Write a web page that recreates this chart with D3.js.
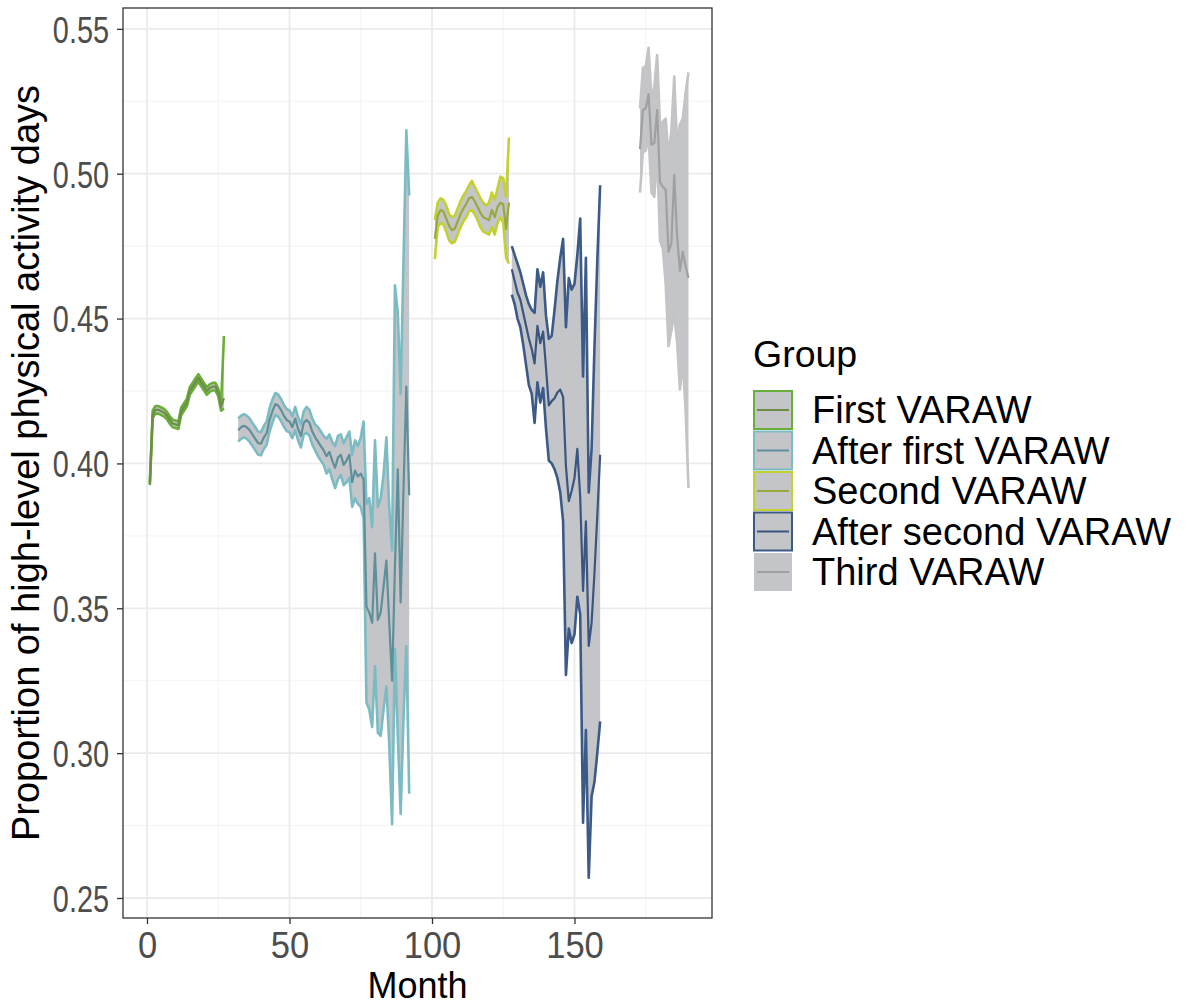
<!DOCTYPE html>
<html><head><meta charset="utf-8">
<script src="https://cdn.jsdelivr.net/npm/d3@7"></script>
<style>body{margin:0;background:#fff}svg{display:block}</style>
</head><body><svg id="chart" width="1187" height="1006"></svg>
<script>
// ---------------- data ----------------
const groupNames = ["First VARAW","After first VARAW","Second VARAW","After second VARAW","Third VARAW"];
const edgeColors = ["#6aae3a","#7bbcc4","#c3d130","#3c5a88","#c4c4c6"];
const meanColors = ["#6d8c45","#5e8f9a","#9aa73a","#3a5580","#a0a0a2"];
const startMonths = [1, 32, 101, 128, 173];

const firstMean = [0.3930,0.4170,0.4185,0.4185,0.4180,0.4175,0.4165,0.4150,0.4138,0.4135,0.4132,0.4180,0.4195,0.4210,0.4250,0.4265,0.4280,0.4295,0.4280,0.4265,0.4250,0.4260,0.4265,0.4265,0.4245,0.4195,0.4225];
const firstLo   = [0.3925,0.4157,0.4172,0.4172,0.4167,0.4162,0.4152,0.4137,0.4125,0.4122,0.4119,0.4167,0.4182,0.4197,0.4237,0.4252,0.4267,0.4282,0.4267,0.4252,0.4237,0.4247,0.4252,0.4252,0.4232,0.4182,0.4190];
const firstHi   = [0.3935,0.4183,0.4198,0.4198,0.4193,0.4188,0.4178,0.4163,0.4151,0.4148,0.4145,0.4193,0.4208,0.4223,0.4263,0.4278,0.4293,0.4308,0.4293,0.4278,0.4263,0.4273,0.4278,0.4278,0.4258,0.4208,0.4440];

const afterFirstMean = [0.4115,0.4125,0.4130,0.4125,0.4115,0.4100,0.4085,0.4070,0.4068,0.4090,0.4105,0.4150,0.4180,0.4205,0.4200,0.4185,0.4165,0.4150,0.4145,0.4125,0.4155,0.4120,0.4095,0.4140,0.4150,0.4140,0.4110,0.4090,0.4075,0.4060,0.4045,0.4025,0.4040,0.4010,0.3985,0.4020,0.4030,0.3995,0.4010,0.4030,0.3935,0.3975,0.3955,0.3965,0.3945,0.3505,0.3485,0.3450,0.3690,0.3460,0.3485,0.3575,0.3665,0.3450,0.3250,0.3645,0.3980,0.3520,0.3910,0.4265,0.3890];
const afterFirstLo   = [0.4075,0.4085,0.4090,0.4085,0.4075,0.4060,0.4045,0.4030,0.4028,0.4050,0.4065,0.4110,0.4140,0.4167,0.4162,0.4147,0.4127,0.4112,0.4107,0.4087,0.4115,0.4080,0.4055,0.4100,0.4105,0.4095,0.4065,0.4045,0.4025,0.4010,0.3995,0.3965,0.3980,0.3945,0.3915,0.3945,0.3960,0.3925,0.3935,0.3950,0.3850,0.3880,0.3860,0.3850,0.3810,0.3175,0.3150,0.3090,0.3300,0.3070,0.3060,0.3150,0.3230,0.3030,0.2755,0.3360,0.3060,0.2790,0.3120,0.3370,0.2860];
const afterFirstHi   = [0.4155,0.4165,0.4170,0.4165,0.4155,0.4140,0.4125,0.4110,0.4108,0.4130,0.4145,0.4190,0.4220,0.4243,0.4238,0.4223,0.4203,0.4188,0.4183,0.4163,0.4195,0.4160,0.4135,0.4180,0.4195,0.4185,0.4155,0.4135,0.4125,0.4110,0.4095,0.4085,0.4100,0.4075,0.4060,0.4095,0.4100,0.4070,0.4090,0.4110,0.4030,0.4080,0.4060,0.4090,0.4145,0.3860,0.3880,0.3780,0.4080,0.3850,0.3880,0.3960,0.4090,0.3850,0.3700,0.4615,0.4520,0.4240,0.4700,0.5150,0.4925];

const secondMean = [0.4775,0.4855,0.4875,0.4870,0.4845,0.4820,0.4805,0.4810,0.4835,0.4860,0.4880,0.4895,0.4915,0.4920,0.4905,0.4885,0.4865,0.4850,0.4845,0.4840,0.4875,0.4850,0.4885,0.4900,0.4895,0.4810,0.4900];
const secondLo   = [0.4705,0.4815,0.4830,0.4825,0.4800,0.4770,0.4760,0.4765,0.4790,0.4815,0.4835,0.4850,0.4870,0.4875,0.4860,0.4840,0.4815,0.4800,0.4795,0.4790,0.4815,0.4790,0.4830,0.4850,0.4830,0.4710,0.4690];
const secondHi   = [0.4840,0.4900,0.4915,0.4910,0.4890,0.4860,0.4850,0.4855,0.4880,0.4905,0.4925,0.4940,0.4960,0.4975,0.4955,0.4935,0.4915,0.4900,0.4890,0.4900,0.4935,0.4910,0.4950,0.4990,0.4985,0.4920,0.5125];

const afterSecondMean = [0.4670,0.4630,0.4590,0.4565,0.4520,0.4475,0.4430,0.4395,0.4345,0.4475,0.4415,0.4455,0.4330,0.4200,0.4215,0.4225,0.4245,0.4255,0.4230,0.3990,0.3870,0.3905,0.3950,0.4050,0.3885,0.3560,0.3800,0.3370,0.3450,0.3620,0.3820,0.4030];
const afterSecondLo   = [0.4583,0.4550,0.4500,0.4470,0.4410,0.4340,0.4270,0.4240,0.4140,0.4280,0.4210,0.4260,0.4120,0.4010,0.4000,0.3980,0.3950,0.3900,0.3800,0.3270,0.3430,0.3380,0.3410,0.3540,0.3480,0.2760,0.3080,0.2570,0.2850,0.2900,0.3000,0.3110];
const afterSecondHi   = [0.4750,0.4720,0.4690,0.4660,0.4620,0.4580,0.4550,0.4530,0.4520,0.4670,0.4610,0.4660,0.4510,0.4430,0.4440,0.4530,0.4630,0.4710,0.4775,0.4470,0.4640,0.4600,0.4620,0.4720,0.4845,0.4300,0.4710,0.3900,0.4050,0.4400,0.4700,0.4960];

const thirdMean = [0.5085,0.5220,0.5225,0.5275,0.5100,0.5105,0.5220,0.4970,0.4955,0.4945,0.4730,0.4760,0.4995,0.4785,0.4665,0.4730,0.4680,0.4640];
const thirdLo   = [0.4935,0.5075,0.5080,0.5130,0.4935,0.4920,0.5070,0.4770,0.4740,0.4620,0.4405,0.4460,0.4520,0.4420,0.4255,0.4350,0.4180,0.3915];
const thirdHi   = [0.5225,0.5365,0.5370,0.5435,0.5260,0.5300,0.5410,0.5170,0.5180,0.5190,0.5060,0.5150,0.5335,0.5100,0.5170,0.5190,0.5280,0.5350];

const meanSeries = [firstMean, afterFirstMean, secondMean, afterSecondMean, thirdMean];
const loSeries   = [firstLo, afterFirstLo, secondLo, afterSecondLo, thirdLo];
const hiSeries   = [firstHi, afterFirstHi, secondHi, afterSecondHi, thirdHi];

const yMajor = [0.25,0.30,0.35,0.40,0.45,0.50,0.55];
const yMinor = [0.275,0.325,0.375,0.425,0.475,0.525];
const xMajor = [0,50,100,150];
const xMinor = [25,75,125,175];
const yTickLabels = ["0.25","0.30","0.35","0.40","0.45","0.50","0.55"];
const xTickLabels = ["0","50","100","150"];

// ---------------- layout ----------------
const panel = {l:123, r:712, t:8, b:918};
const svg = d3.select("#chart");
const FONT = "'Liberation Sans', Arial, sans-serif";
const x = d3.scaleLinear().domain([-8.42, 198.25]).range([panel.l, panel.r]);
const y = d3.scaleLinear().domain([0.2431, 0.5572]).range([panel.b, panel.t]);

svg.append("rect").attr("x",0).attr("y",0).attr("width",1187).attr("height",1006).attr("fill","#fff");

const grid = svg.append("g");
grid.selectAll(".ymin").data(yMinor).enter().append("line")
  .attr("x1",panel.l).attr("x2",panel.r).attr("y1",d=>y(d)).attr("y2",d=>y(d))
  .attr("stroke","#f2f2f2").attr("stroke-width",0.9);
grid.selectAll(".xmin").data(xMinor).enter().append("line")
  .attr("y1",panel.t).attr("y2",panel.b).attr("x1",d=>x(d)).attr("x2",d=>x(d))
  .attr("stroke","#f2f2f2").attr("stroke-width",0.9);
grid.selectAll(".ymaj").data(yMajor).enter().append("line")
  .attr("x1",panel.l).attr("x2",panel.r).attr("y1",d=>y(d)).attr("y2",d=>y(d))
  .attr("stroke","#ebebeb").attr("stroke-width",1.8);
grid.selectAll(".xmaj").data(xMajor).enter().append("line")
  .attr("y1",panel.t).attr("y2",panel.b).attr("x1",d=>x(d)).attr("x2",d=>x(d))
  .attr("stroke","#ebebeb").attr("stroke-width",1.8);

// ---------------- series ----------------
const plot = svg.append("g");
groupNames.forEach((g, gi) => {
  const pts = meanSeries[gi].map((v,i)=>({m:startMonths[gi]+i, mean:v, lo:loSeries[gi][i], hi:hiSeries[gi][i]}));
  const area = d3.area().x(d=>x(d.m)).y0(d=>y(d.lo)).y1(d=>y(d.hi));
  plot.append("path").datum(pts).attr("d",area).attr("fill","#c4c5c8").attr("stroke","none");
  const lineLo = d3.line().x(d=>x(d.m)).y(d=>y(d.lo));
  const lineHi = d3.line().x(d=>x(d.m)).y(d=>y(d.hi));
  const lineM = d3.line().x(d=>x(d.m)).y(d=>y(d.mean));
  [lineLo, lineHi].forEach(l => plot.append("path").datum(pts).attr("d",l)
    .attr("fill","none").attr("stroke",edgeColors[gi]).attr("stroke-width",2.6).attr("stroke-linejoin","round"));
  plot.append("path").datum(pts).attr("d",lineM)
    .attr("fill","none").attr("stroke",meanColors[gi]).attr("stroke-width",2.2).attr("stroke-linejoin","round");
});

// panel border
svg.append("rect").attr("x",panel.l).attr("y",panel.t).attr("width",panel.r-panel.l).attr("height",panel.b-panel.t)
  .attr("fill","none").attr("stroke","#333333").attr("stroke-width",1.3);

// ---------------- axes ----------------
const yAxis = d3.axisLeft(y).tickValues(yMajor).tickSize(6).tickPadding(8)
  .tickFormat((d,i)=>yTickLabels[i]);
const yg = svg.append("g").attr("transform",`translate(${panel.l},0)`).call(yAxis);
const xAxis = d3.axisBottom(x).tickValues(xMajor).tickSize(6).tickPadding(8)
  .tickFormat((d,i)=>xTickLabels[i]);
const xg = svg.append("g").attr("transform",`translate(0,${panel.b})`).call(xAxis);
[yg,xg].forEach(g=>{
  g.select(".domain").remove();
  g.selectAll(".tick line").attr("stroke","#333333").attr("stroke-width",1.3);
  g.selectAll(".tick text").attr("fill","#4d4d4d").style("font-family",FONT);
});
yg.selectAll(".tick text").style("font-size","37px").each(function(){
  const t = d3.select(this); const xx = +t.attr("x");
  t.attr("x",null).attr("transform",`translate(${xx},0) scale(0.78,1)`).attr("dy","0.36em");
});
xg.selectAll(".tick text").style("font-size","36px").each(function(){
  const t = d3.select(this); const yy = +t.attr("y");
  t.attr("y",null).attr("transform",`translate(0,${yy}) scale(0.96,1)`);
});

// titles
svg.append("text").attr("x",(panel.l+panel.r)/2).attr("y",998).attr("text-anchor","middle")
  .style("font-family",FONT).style("font-size","36px").attr("fill","#000").text("Month");
svg.append("text").attr("transform",`translate(39,${(panel.t+panel.b)/2}) rotate(-90)`).attr("text-anchor","middle")
  .style("font-family",FONT).style("font-size","38px").attr("fill","#000").text("Proportion of high-level physical activity days");

// ---------------- legend ----------------
const lg = svg.append("g");
lg.append("text").attr("x",753).attr("y",367).style("font-family",FONT).style("font-size","37.5px").attr("fill","#000").text("Group");
groupNames.forEach((g,i)=>{
  const top = 391 + i*40.5;
  lg.append("rect").attr("x",754).attr("y",top).attr("width",38).attr("height",38)
    .attr("fill","#c4c5c8").attr("stroke",edgeColors[i]).attr("stroke-width",i===4?0:2);
  lg.append("line").attr("x1",757).attr("x2",789).attr("y1",top+19).attr("y2",top+19)
    .attr("stroke",meanColors[i]).attr("stroke-width",2);
  lg.append("text").attr("x",812).attr("y",top+32).style("font-family",FONT).style("font-size","38px")
    .attr("fill","#000").text(g);
});
</script></body></html>
